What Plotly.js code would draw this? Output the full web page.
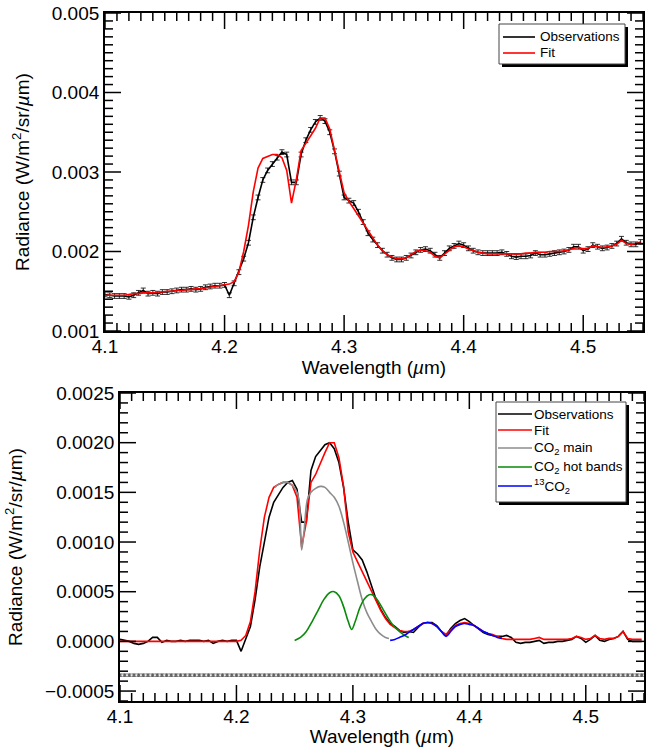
<!DOCTYPE html>
<html>
<head>
<meta charset="utf-8">
<script src="https://cdn.plot.ly/plotly-3.0.1.min.js"></script>
<style>html,body{margin:0;padding:0;background:#fff;}#chart{width:660px;height:747px;}</style>
</head>
<body>
<div id="chart"></div>
<script>
// Wavelength grid (µm) shared by observations and fit
const wavelength = [
4.100,4.104,4.108,4.112,4.116,4.120,4.124,4.128,4.132,4.136,
4.140,4.144,4.148,4.152,4.156,4.160,4.164,4.168,4.172,4.176,
4.180,4.184,4.188,4.192,4.196,4.200,4.204,4.208,4.212,4.216,
4.220,4.224,4.228,4.232,4.236,4.240,4.244,4.248,4.252,4.256,
4.260,4.264,4.268,4.272,4.276,4.280,4.284,4.288,4.292,4.296,
4.300,4.304,4.308,4.312,4.316,4.320,4.324,4.328,4.332,4.336,
4.340,4.344,4.348,4.352,4.356,4.360,4.364,4.368,4.372,4.376,
4.380,4.384,4.388,4.392,4.396,4.400,4.404,4.408,4.412,4.416,
4.420,4.424,4.428,4.432,4.436,4.440,4.444,4.448,4.452,4.456,
4.460,4.464,4.468,4.472,4.476,4.480,4.484,4.488,4.492,4.496,
4.500,4.504,4.508,4.512,4.516,4.520,4.524,4.528,4.532,4.536,
4.540,4.544,4.548];

// Top panel: observed radiance and fit
const topObs = [
0.00146,0.00145,0.00144,0.00144,0.00144,0.00143,0.00145,0.00148,0.00151,0.00147,
0.00148,0.00147,0.00149,0.00149,0.00150,0.00151,0.00152,0.00152,0.00153,0.00152,
0.00153,0.00155,0.00156,0.00157,0.00157,0.00158,0.00145,0.00160,0.00174,0.00191,
0.00211,0.00243,0.00268,0.00290,0.00302,0.00310,0.00318,0.00325,0.00322,0.00287,
0.00287,0.00322,0.00340,0.00353,0.00363,0.00368,0.00364,0.00350,0.00326,0.00298,
0.00268,0.00264,0.00261,0.00250,0.00237,0.00223,0.00215,0.00208,0.00201,0.00196,
0.00192,0.00190,0.00190,0.00192,0.00195,0.00199,0.00202,0.00203,0.00201,0.00196,
0.00192,0.00198,0.00204,0.00207,0.00210,0.00208,0.00204,0.00201,0.00199,0.00198,
0.00198,0.00198,0.00198,0.00199,0.00197,0.00194,0.00193,0.00194,0.00194,0.00195,
0.00198,0.00196,0.00196,0.00197,0.00198,0.00199,0.00200,0.00202,0.00206,0.00206,
0.00201,0.00203,0.00208,0.00206,0.00204,0.00205,0.00207,0.00210,0.00216,0.00211,
0.00209,0.00209,0.00212];
const topObsErr = 0.00003;

const topFit = [
0.00145,0.00145,0.00145,0.00145,0.00145,0.00146,0.00147,0.00147,0.00148,0.00148,
0.00148,0.00149,0.00149,0.00150,0.00150,0.00151,0.00151,0.00152,0.00152,0.00153,
0.00153,0.00154,0.00155,0.00156,0.00157,0.00158,0.00159,0.00162,0.00174,0.00200,
0.00233,0.00275,0.00305,0.00317,0.00320,0.00322,0.00322,0.00318,0.00302,0.00261,
0.00290,0.00327,0.00336,0.00345,0.00355,0.00368,0.00368,0.00354,0.00325,0.00300,
0.00274,0.00263,0.00254,0.00245,0.00236,0.00227,0.00217,0.00208,0.00201,0.00196,
0.00193,0.00191,0.00191,0.00192,0.00196,0.00200,0.00202,0.00201,0.00199,0.00194,
0.00192,0.00197,0.00202,0.00206,0.00207,0.00206,0.00203,0.00201,0.00199,0.00198,
0.00197,0.00197,0.00197,0.00197,0.00197,0.00197,0.00197,0.00197,0.00198,0.00198,
0.00199,0.00199,0.00199,0.00200,0.00200,0.00200,0.00201,0.00202,0.00204,0.00205,
0.00203,0.00204,0.00207,0.00206,0.00205,0.00206,0.00207,0.00209,0.00214,0.00210,
0.00209,0.00210,0.00211];

// Bottom panel: continuum-removed observations and fit
const botObs = [
0.00002,0.00001,0.00000,-0.00002,-0.00003,-0.00002,0.00000,0.00004,0.00004,-0.00001,
0.00001,0.00000,0.00000,0.00001,0.00000,0.00001,0.00001,0.00001,0.00000,0.00001,
-0.00002,0.00000,0.00001,0.00000,0.00001,0.00001,-0.00010,0.00002,0.00015,0.00042,
0.00075,0.00100,0.00125,0.00140,0.00148,0.00155,0.00160,0.00162,0.00153,0.00120,
0.00120,0.00172,0.00186,0.00192,0.00198,0.00200,0.00194,0.00180,0.00155,0.00120,
0.00092,0.00088,0.00082,0.00070,0.00056,0.00042,0.00032,0.00024,0.00018,0.00015,
0.00011,0.00009,0.00010,0.00009,0.00014,0.00018,0.00019,0.00019,0.00016,0.00010,
0.00006,0.00013,0.00018,0.00021,0.00023,0.00020,0.00016,0.00012,0.00009,0.00007,
0.00006,0.00005,0.00005,0.00006,0.00004,-0.00001,-0.00002,-0.00001,-0.00001,0.00000,
0.00001,-0.00002,-0.00001,-0.00001,0.00000,0.00000,0.00001,0.00002,0.00005,0.00003,
-0.00001,0.00002,0.00006,0.00001,0.00000,0.00002,0.00003,0.00005,0.00010,0.00002,
0.00000,0.00000,0.00000];

const botFit = [
0.00000,0.00000,0.00000,0.00000,0.00000,0.00000,0.00000,0.00000,0.00000,0.00000,
0.00000,0.00000,0.00000,0.00000,0.00000,0.00000,0.00000,0.00000,0.00000,0.00000,
0.00000,0.00000,0.00000,0.00000,0.00000,0.00000,0.00001,0.00006,0.00020,0.00050,
0.00092,0.00125,0.00145,0.00155,0.00158,0.00160,0.00160,0.00157,0.00145,0.00095,
0.00120,0.00160,0.00168,0.00180,0.00190,0.00200,0.00200,0.00185,0.00156,0.00110,
0.00090,0.00080,0.00070,0.00060,0.00050,0.00040,0.00031,0.00023,0.00017,0.00014,
0.00011,0.00010,0.00010,0.00012,0.00015,0.00018,0.00019,0.00018,0.00015,0.00010,
0.00007,0.00012,0.00016,0.00018,0.00019,0.00018,0.00016,0.00013,0.00010,0.00008,
0.00007,0.00005,0.00003,0.00002,0.00002,0.00002,0.00002,0.00002,0.00002,0.00003,
0.00004,0.00002,0.00002,0.00002,0.00002,0.00002,0.00002,0.00003,0.00005,0.00004,
0.00002,0.00003,0.00006,0.00003,0.00002,0.00003,0.00003,0.00005,0.00010,0.00003,
0.00002,0.00002,0.00002];

// Fit components
const mainWl = [4.233,4.236,4.240,4.244,4.248,4.252,4.254,4.256,4.258,4.261,4.264,4.268,4.272,4.276,
  4.280,4.284,4.288,4.292,4.296,4.300,4.304,4.308,4.312,4.316,4.320,4.324,4.328,4.331];
const mainVal = [0.00155,0.00158,0.00160,0.00160,0.00157,0.00150,0.00140,0.00092,0.00110,0.00143,0.00150,0.00154,0.00156,0.00155,
  0.00150,0.00145,0.00136,0.00120,0.00100,0.00079,0.00060,0.00042,0.00029,0.00020,0.00012,0.00007,0.00004,0.00003];

const hotWl = [4.250,4.255,4.260,4.265,4.270,4.275,4.280,4.284,4.288,4.292,4.296,4.299,4.302,4.306,
  4.310,4.314,4.318,4.322,4.326,4.330,4.334,4.338,4.342,4.346,4.348];
const hotVal = [0.00001,0.00004,0.00010,0.00020,0.00031,0.00042,0.00049,0.00050,0.00046,0.00035,0.00020,0.00012,0.00020,0.00034,
  0.00043,0.00047,0.00046,0.00040,0.00032,0.00024,0.00017,0.00012,0.00008,0.00005,0.00004];

const isoWl = [4.332,4.336,4.340,4.344,4.348,4.352,4.356,4.360,4.364,4.368,4.372,4.376,4.380,4.384,
  4.388,4.392,4.396,4.400,4.404,4.408,4.412,4.416,4.420,4.424,4.428];
const isoVal = [0.00001,0.00002,0.00004,0.00006,0.00009,0.00012,0.00015,0.00018,0.00019,0.00018,0.00015,0.00010,0.00005,0.00010,
  0.00015,0.00017,0.00018,0.00017,0.00016,0.00013,0.00010,0.00008,0.00006,0.00004,0.00003];

// Uncertainty row drawn at an offset below zero
const sigmaOffset = -0.00034;
const sigmaValue = 0.000012;

// Legend labels
const topLegendNames = ['Observations', 'Fit'];
const botLegendNames = ['Observations', 'Fit', 'CO<sub>2</sub> main', 'CO<sub>2</sub> hot bands', '<sup>13</sup>CO<sub>2</sub>'];

// Axis ranges
const X_RANGE = [4.1, 4.55];
const Y1_RANGE = [0.001, 0.005];
const Y2_RANGE = [-0.0006, 0.0025];

const FONT = '"Liberation Sans", Arial, Helvetica, sans-serif';
const LW = 1.6;
const C = {obs:'#000000', fit:'#ff0000', main:'#8c8c8c', hot:'#0a8a0a', iso:'#0000ff'};

// Panel frames in pixels: [left, right, top, bottom]
const P1 = [105, 643, 13, 331];
const P2 = [120, 644, 393, 701];
const px = v => v / 660;
const py = v => 1 - v / 747;

const traces = [
  {x: wavelength, y: topObs, xaxis:'x', yaxis:'y', name:'Observations', mode:'lines',
   line:{color:C.obs, width:LW},
   error_y:{type:'constant', value:topObsErr, color:'#000', thickness:0.8, width:2.5}},
  {x: wavelength, y: topFit, xaxis:'x', yaxis:'y', name:'Fit', mode:'lines',
   line:{color:C.fit, width:LW}},
  {x: wavelength, y: wavelength.map(() => sigmaOffset), xaxis:'x2', yaxis:'y2', mode:'markers', name:'uncertainty',
   marker:{size:2, color:'#555', symbol:'circle-open'},
   error_y:{type:'constant', value:sigmaValue, color:'#444', thickness:0.8, width:2.2}},
  {x: wavelength, y: botObs, xaxis:'x2', yaxis:'y2', name:'Observations', mode:'lines',
   line:{color:C.obs, width:LW}},
  {x: wavelength, y: botFit, xaxis:'x2', yaxis:'y2', name:'Fit', mode:'lines',
   line:{color:C.fit, width:LW}},
  {x: mainWl, y: mainVal, xaxis:'x2', yaxis:'y2', name:'CO2 main', mode:'lines',
   line:{color:C.main, width:LW, shape:'spline'}},
  {x: hotWl, y: hotVal, xaxis:'x2', yaxis:'y2', name:'CO2 hot bands', mode:'lines',
   line:{color:C.hot, width:LW, shape:'spline'}},
  {x: isoWl, y: isoVal, xaxis:'x2', yaxis:'y2', name:'13CO2', mode:'lines',
   line:{color:C.iso, width:LW, shape:'spline'}}
];

// Inside tick marks on all four sides, drawn as a gap-separated line trace per panel
const MAJ = 16, MIN = 8, TW = 1.5;
function tickTrace(P, xa, ya, yRange, yLo, yHi, yStep, yMajor) {
  const tx = [], ty = [];
  const xPerPx = (X_RANGE[1] - X_RANGE[0]) / (P[1] - P[0]);
  const yPerPx = (yRange[1] - yRange[0]) / (P[3] - P[2]);
  const nx = Math.round((X_RANGE[1] - X_RANGE[0]) / 0.01);
  for (let k = 0; k <= nx; k++) {
    const v = X_RANGE[0] + k * 0.01;
    const len = (k % 10 === 0 ? MAJ : MIN) * yPerPx;
    tx.push(v, v, null, v, v, null);
    ty.push(yRange[0], yRange[0] + len, null, yRange[1], yRange[1] - len, null);
  }
  const ny = Math.round((yHi - yLo) / yStep);
  for (let k = 0; k <= ny; k++) {
    const v = yLo + k * yStep;
    const isMajor = Math.abs(v / yMajor - Math.round(v / yMajor)) < 1e-6;
    const len = (isMajor ? MAJ : MIN) * xPerPx;
    tx.push(X_RANGE[0], X_RANGE[0] + len, null, X_RANGE[1], X_RANGE[1] - len, null);
    ty.push(v, v, null, v, v, null);
  }
  return {x: tx, y: ty, xaxis: xa, yaxis: ya, mode:'lines', connectgaps:false, cliponaxis:false,
    line:{color:'#000', width:TW}, hoverinfo:'skip', showlegend:false, name:'ticks'};
}
traces.push(tickTrace(P1, 'x', 'y', Y1_RANGE, 0.0010, 0.0050, 0.0001, 0.001));
traces.push(tickTrace(P2, 'x2', 'y2', Y2_RANGE, -0.0006, 0.0025, 0.0001, 0.0005));

function xAxis(P, anchor) {
  return {
    domain: [px(P[0]), px(P[1])], anchor: anchor, range: X_RANGE, dtick:0.1, tick0:4.1, tickformat:'.1f',
    ticks:'', showline:true, linecolor:'#000', linewidth:1.8, mirror:true,
    showgrid:false, zeroline:false, ticklabelstandoff:-3,
    tickfont:{size:19, color:'#000', family:FONT},
    title:{text:'Wavelength (<i>µ</i>m)', font:{size:19, color:'#000', family:FONT}, standoff:0},
    automargin:false
  };
}
function yAxis(P, anchor, range, dtick, fmt) {
  return {
    domain: [py(P[3]), py(P[2])], anchor: anchor, range: range, dtick: dtick, tickformat: fmt,
    ticks:'', showline:true, linecolor:'#000', linewidth:1.8, mirror:true,
    showgrid:false, zeroline:false,
    tickfont:{size:19, color:'#000', family:FONT},
    title:{text:'Radiance (W/m<sup>2</sup>/sr/<i>µ</i>m)', font:{size:19, color:'#000', family:FONT}, standoff:17},
    automargin:false
  };
}

const shapes = [];
const annotations = [];

// Hand-drawn legend boxes (paper coordinates from pixel positions)
function addLegend(box, rows, lineX, textX, names, colors) {
  shapes.push({type:'rect', xref:'paper', yref:'paper', x0:px(box[0]+3), x1:px(box[1]+3), y0:py(box[3]+3), y1:py(box[2]+3),
    fillcolor:'#000', line:{width:0}, layer:'above'});
  shapes.push({type:'rect', xref:'paper', yref:'paper', x0:px(box[0]), x1:px(box[1]), y0:py(box[3]), y1:py(box[2]),
    fillcolor:'#fff', line:{color:'#444', width:1}, layer:'above'});
  names.forEach((n, i) => {
    shapes.push({type:'line', xref:'paper', yref:'paper', x0:px(lineX[0]), x1:px(lineX[1]), y0:py(rows[i]), y1:py(rows[i]),
      line:{color:colors[i], width:LW}, layer:'above'});
    annotations.push({xref:'paper', yref:'paper', x:px(textX), y:py(rows[i]), xanchor:'left', yanchor:'middle',
      text:n, showarrow:false, borderpad:0, font:{size:13.5, color:'#000', family:FONT}});
  });
}
addLegend([499, 625, 24, 64], [37, 53], [503, 535], 539, topLegendNames, [C.obs, C.fit]);
addLegend([496, 626, 402, 502], [414, 430, 448, 467, 486], [498, 532], 533, botLegendNames,
  [C.obs, C.fit, C.main, C.hot, C.iso]);

const layout = {
  width:660, height:747,
  margin:{l:0, r:0, t:0, b:0},
  paper_bgcolor:'#fff', plot_bgcolor:'#fff',
  font:{family:FONT, color:'#000'},
  showlegend:false,
  xaxis: xAxis(P1, 'y'),
  yaxis: yAxis(P1, 'x', Y1_RANGE, 0.001, '.3f'),
  xaxis2: xAxis(P2, 'y2'),
  yaxis2: yAxis(P2, 'x2', Y2_RANGE, 0.0005, '.4f'),
  shapes: shapes,
  annotations: annotations
};

Plotly.newPlot('chart', traces, layout, {displayModeBar:false});
</script>
</body>
</html>
